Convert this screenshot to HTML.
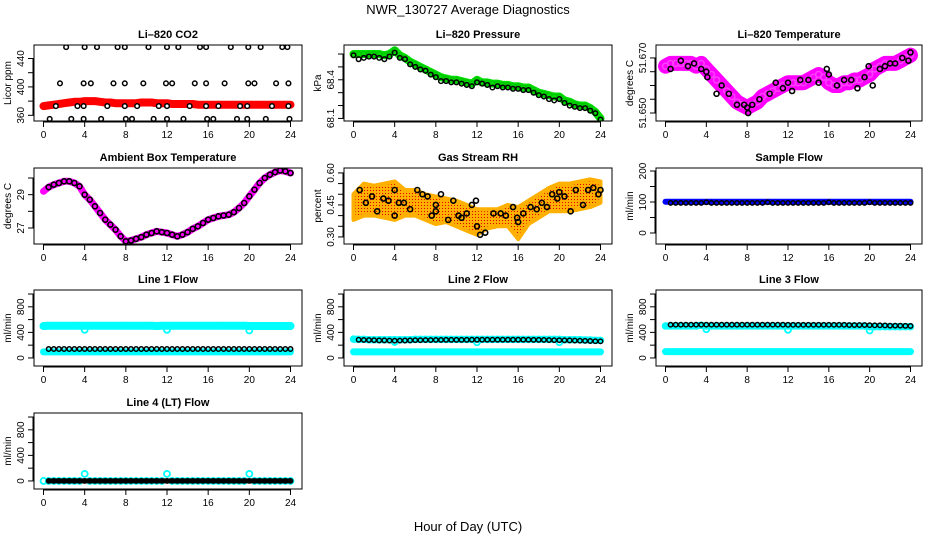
<!DOCTYPE html>
<html><head><meta charset="utf-8">
<style>
html,body{margin:0;padding:0;background:#fff;}
svg{display:block;font-family:"Liberation Sans",sans-serif;}
</style></head>
<body>
<svg id="chart" width="936" height="540" viewBox="0 0 936 540" xmlns="http://www.w3.org/2000/svg">
<text x="468" y="14" text-anchor="middle" font-size="13">NWR_130727  Average Diagnostics</text>
<text x="468" y="531" text-anchor="middle" font-size="13">Hour of Day (UTC)</text>
</svg>
<script>
// ---------- data ----------
const hours = [0,0.5,1,1.5,2,2.5,3,3.5,4,4.5,5,5.5,6,6.5,7,7.5,8,8.5,9,9.5,10,10.5,11,11.5,12,12.5,13,13.5,14,14.5,15,15.5,16,16.5,17,17.5,18,18.5,19,19.5,20,20.5,21,21.5,22,22.5,23,23.5,24];
const xTicks = [0,4,8,12,16,20,24];

const co2Red = [373,374,375,376,377,378,379,379,380,380,380,379,378,378,377,377,377,377,377,378,378,378,377,377,377,376,376,376,376,376,375,375,375,375,375,375,375,375,375,375,375,375,375,375,375,375,375,375,375];
const co2BlackT = [2.2,4.0,5.2,7.2,7.9,10.2,12.0,13.1,15.2,15.8,18.2,19.9,21.1,23.2,23.7, 1.6,3.9,4.6,6.8,7.9,9.7,11.9,12.5,14.7,15.8,17.6,19.9,20.5,22.6,23.8, 1.2,3.3,3.9,6.2,7.9,9.1,11.2,12.0,14.2,15.8,17.0,19.1,19.8,22.2,23.8, 0.6,2.7,3.9,5.6,8.0,8.6,10.7,12.0,13.6,15.9,16.5,18.8,19.8,21.6,23.9];
const co2BlackV = [456,456,456,456,456,456,456,456,456,456,456,456,456,456,456, 405,405,405,405,405,405,405,405,405,405,405,405,405,405,405, 373,373,373,373,373,373,373,373,373,373,373,373,373,373,373, 355,355,355,355,355,355,355,355,355,355,355,355,355,355,355];
const co2Ticks = [360,380,400,420,440];
const co2Labels = ["360","","400","","440"];

const presGreen = [68.60,68.60,68.60,68.60,68.60,68.60,68.59,68.60,68.63,68.59,68.57,68.54,68.52,68.50,68.48,68.46,68.44,68.42,68.41,68.40,68.40,68.39,68.38,68.37,68.40,68.38,68.38,68.37,68.37,68.36,68.36,68.35,68.35,68.34,68.34,68.32,68.30,68.29,68.28,68.27,68.27,68.24,68.23,68.21,68.20,68.20,68.18,68.15,68.10];
const presBlack = [68.59,68.56,68.57,68.58,68.58,68.57,68.56,68.58,68.61,68.57,68.56,68.52,68.50,68.48,68.47,68.44,68.42,68.39,68.39,68.38,68.38,68.37,68.36,68.35,68.38,68.37,68.36,68.34,68.35,68.34,68.34,68.33,68.33,68.32,68.32,68.30,68.28,68.27,68.25,68.24,68.25,68.22,68.20,68.19,68.18,68.18,68.16,68.14,68.09];
const presTicks = [68.1,68.2,68.3,68.4,68.5,68.6];
const presLabels = ["68.1","","","68.4","",""];

const tempPink = [51.667,51.668,51.668,51.668,51.668,51.668,51.667,51.668,51.666,51.664,51.662,51.660,51.658,51.656,51.654,51.653,51.652,51.653,51.654,51.656,51.657,51.658,51.659,51.660,51.661,51.661,51.661,51.661,51.662,51.663,51.664,51.663,51.661,51.660,51.660,51.661,51.661,51.662,51.662,51.663,51.664,51.666,51.667,51.668,51.668,51.668,51.669,51.670,51.671];
const tempBlackT = [0.5,1.5,2.2,2.8,3.5,4.0,4.1,5.0,5.5,6.2,7.0,7.7,8.0,8.1,8.5,9.2,10.2,10.8,11.5,12.0,12.4,13.2,14.0,15.0,15.8,16.0,16.8,17.5,18.2,18.8,19.5,19.9,20.3,21.0,21.5,22.0,22.5,23.2,23.8,24.0];
const tempBlackV = [51.666,51.669,51.667,51.668,51.666,51.665,51.663,51.657,51.660,51.657,51.653,51.653,51.652,51.650,51.653,51.655,51.657,51.661,51.659,51.661,51.658,51.662,51.662,51.661,51.666,51.664,51.660,51.662,51.662,51.659,51.663,51.667,51.660,51.666,51.667,51.668,51.668,51.670,51.669,51.672];
const tempTicks = [51.650,51.655,51.660,51.665,51.670];
const tempLabels = ["51.650","","","","51.670"];

const ambient = [29.2,29.45,29.6,29.7,29.8,29.8,29.7,29.5,29.0,28.7,28.3,27.9,27.5,27.2,26.9,26.5,26.2,26.25,26.35,26.45,26.6,26.7,26.8,26.75,26.7,26.6,26.5,26.6,26.75,26.95,27.1,27.3,27.5,27.6,27.7,27.75,27.8,27.95,28.2,28.5,28.9,29.3,29.7,30.0,30.2,30.35,30.45,30.4,30.3];
const ambTicks = [27,28,29,30];
const ambLabels = ["27","","29",""];

const rhHours = [0,1,2,3,4,5,6,7,8,9,10,11,12,13,14,15,16,17,18,19,20,21,22,23,24];
const rhLow = [0.38,0.40,0.40,0.39,0.38,0.40,0.40,0.38,0.36,0.37,0.35,0.33,0.31,0.34,0.35,0.35,0.29,0.36,0.39,0.42,0.42,0.42,0.43,0.44,0.46];
const rhHigh = [0.50,0.55,0.54,0.55,0.56,0.52,0.52,0.50,0.49,0.48,0.47,0.45,0.43,0.43,0.43,0.45,0.44,0.47,0.50,0.53,0.55,0.55,0.56,0.57,0.56];
const rhBlackT = [0.6,1.2,1.8,2.3,2.9,3.4,4.0,4.0,4.4,4.9,5.5,6.2,6.7,7.2,7.6,8.0,8.0,8.5,9.2,9.7,10.2,10.5,11.0,11.5,11.9,12.0,12.3,12.8,13.6,14.3,14.8,15.5,15.9,16.0,16.5,17.2,17.8,18.3,18.8,19.3,19.8,20.0,20.5,21.1,21.6,22.3,22.8,23.3,23.8,24.0];
const rhBlackV = [0.52,0.46,0.49,0.42,0.48,0.47,0.52,0.40,0.46,0.46,0.43,0.52,0.50,0.49,0.40,0.45,0.42,0.50,0.38,0.47,0.40,0.39,0.41,0.45,0.47,0.35,0.31,0.32,0.41,0.41,0.40,0.44,0.39,0.37,0.41,0.44,0.43,0.46,0.44,0.50,0.48,0.51,0.49,0.42,0.52,0.45,0.52,0.53,0.50,0.52];
const rhTicks = [0.30,0.35,0.40,0.45,0.50,0.55,0.60];
const rhLabels = ["0.30","","","0.45","","","0.60"];

const sampleBlue = [101,101,101,101,101,101,101,101,101,101,101,101,101,101,101,101,101,101,101,101,101,101,101,101,101,101,101,101,101,101,101,101,101,101,101,101,101,101,101,101,101,101,101,101,101,101,101,101,101];
const sampleBlack = [98,97,97,97,97,97,97,97,99,97,97,97,97,97,97,97,97,97,97,97,99,97,97,97,97,97,97,97,97,97,97,97,99,97,97,97,97,97,97,97,99,97,97,97,97,97,97,97,97];
const sampleTicks = [0,50,100,150,200];
const sampleLabels = ["0","","100","","200"];

const flowTicks = [0,200,400,600,800,1000];
const flowLabels = ["0","","400","","800",""];
const dipT = [4,12,20];

const l1CyanHigh = [500,505,505,505,505,505,505,505,505,505,505,505,505,505,505,505,505,505,505,505,505,505,500,505,505,505,505,505,505,505,505,505,505,505,505,505,505,505,505,505,500,500,500,500,500,500,500,500,500];
const l1Dip = [440,440,430];
const l1CyanLow = [95,95,95,95,95,95,95,95,95,95,95,95,95,95,95,95,95,95,95,95,95,95,95,95,95,95,95,95,95,95,95,95,95,95,95,95,95,95,95,95,95,95,95,95,95,95,95,95,95];
const l1Black = [140,140,140,140,140,140,140,140,140,140,140,140,140,140,140,140,140,140,140,140,140,140,140,140,140,140,140,140,140,140,140,140,140,140,140,140,140,140,140,140,140,140,140,140,140,140,140,140,140];

const l2CyanHigh = [295,290,290,285,285,285,285,285,285,285,285,285,290,290,290,290,290,290,290,290,290,290,290,290,290,290,290,290,290,290,290,290,290,290,290,290,290,290,290,290,290,285,285,285,285,280,280,275,275];
const l2Dip = [250,245,245];
const l2CyanLow = [95,95,95,95,95,95,95,95,95,95,95,95,95,95,95,95,95,95,95,95,95,95,95,95,95,95,95,95,95,95,95,95,95,95,95,95,95,95,95,95,95,95,95,95,95,95,95,95,95];
const l2Black = [285,285,282,280,278,275,275,272,270,272,273,275,278,278,280,280,282,282,283,283,283,283,283,285,285,285,285,285,285,285,285,285,285,285,285,283,283,282,280,278,278,276,275,272,270,268,265,262,260];

const l3CyanHigh = [500,500,500,500,500,500,500,510,500,500,500,500,500,500,500,500,500,500,500,500,500,500,500,500,500,500,500,500,500,500,500,500,500,500,500,500,500,500,500,500,490,490,490,490,490,490,490,490,490];
const l3Dip = [450,440,430];
const l3CyanLow = [100,100,100,100,100,100,100,100,100,100,100,100,100,100,100,100,100,100,100,100,100,100,100,100,100,100,100,100,100,100,100,100,100,100,100,100,100,100,100,100,100,100,100,100,100,100,100,100,100];
const l3Black = [520,520,520,520,520,520,520,520,520,520,520,520,520,520,520,520,520,520,520,520,520,520,520,520,518,518,518,518,518,518,518,518,518,518,518,518,515,515,515,515,512,510,510,508,505,505,505,502,500];

const l4Cyan = [0,0,0,0,0,0,0,0,110,0,0,0,0,0,0,0,0,0,0,0,0,0,0,0,110,0,0,0,0,0,0,0,0,0,0,0,0,0,0,0,110,0,0,0,0,0,0,0,0];
const l4Black = [null,0,0,0,0,0,0,0,0,0,0,0,0,0,0,0,0,0,0,0,0,0,0,0,0,0,0,0,0,0,0,0,0,0,0,0,0,0,0,0,0,0,0,0,0,0,0,0,0];

// ---------- layout ----------
const NS = "http://www.w3.org/2000/svg";
const svg = document.getElementById("chart");
const colX = [0, 310, 622];
const rowY = [45, 168, 290, 413];
const BOXL = 34, BOXW = 268, BOXH = 76;

function mk(tag, attrs, parent) {
  const e = document.createElementNS(NS, tag);
  for (const k in attrs) e.setAttribute(k, attrs[k]);
  (parent || svg).appendChild(e);
  return e;
}

function panel(name, col, row, title, ylab, ymin, ymax, ticks, labels) {
  const L = colX[col] + BOXL, T = rowY[row], W = (col === 2 ? 266 : BOXW), H = BOXH;
  const g = mk("g", {});
  
  
  const sx = h => L + 9.5 + h * (W - 21) / 24;
  const sy = v => T + H - (v - ymin) / (ymax - ymin) * H;
  const t = mk("text", {x: L + W / 2, y: T - 7, "text-anchor": "middle", "font-size": 11, "font-weight": "bold"}, g);
  t.textContent = title;
  
  
  const yl = mk("text", {x: 0, y: 0, "text-anchor": "middle", "font-size": 10, transform: `translate(${L - 23},${T + H / 2}) rotate(-90)`}, g);
  yl.textContent = ylab;
  
  
  const xa = mk("line", {x1: sx(xTicks[0]), x2: sx(xTicks[xTicks.length - 1]), y1: T + H + 1, y2: T + H + 1, stroke: "#000"}, g);
  
  
  xTicks.forEach(h => {
    const tk = mk("line", {x1: sx(h), x2: sx(h), y1: T + H, y2: T + H + 6, stroke: "#000"}, g);
    
    
    const lb = mk("text", {x: sx(h), y: T + H + 17, "text-anchor": "middle", "font-size": 10}, g);
    lb.textContent = String(h);
    
    
  });
  const ya = mk("line", {x1: L - 1, x2: L - 1, y1: sy(ticks[0]), y2: sy(ticks[ticks.length - 1]), stroke: "#000"}, g);
  
  
  ticks.forEach((v, i) => {
    const tk = mk("line", {x1: L - 6, x2: L, y1: sy(v), y2: sy(v), stroke: "#000"}, g);
    
    
    if (labels[i]) {
      const lb = mk("text", {x: 0, y: 0, "text-anchor": "middle", "font-size": 10, transform: `translate(${L - 10},${sy(v)}) rotate(-90)`}, g);
      lb.textContent = labels[i];
      
      
    }
  });
  const clip = mk("clipPath", {id: "clip-" + name}, g);
  mk("rect", {x: L, y: T, width: W, height: H}, clip);
  const plot = mk("g", {"clip-path": `url(#clip-${name})`}, g);
  const box = mk("rect", {x: L, y: T, width: W, height: H, fill: "none", stroke: "#000"}, g);
  
  
  return {g: plot, sx, sy};
}

function band(p, name, xs, ys, color, w) {
  const pts = [];
  xs.forEach((x, i) => { if (ys[i] !== null) pts.push(p.sx(x).toFixed(1) + "," + p.sy(ys[i]).toFixed(1)); });
  const pl = mk("polyline", {points: pts.join(" "), fill: "none", stroke: color, "stroke-width": w, "stroke-linejoin": "round", "stroke-linecap": "round"}, p.g);
  
  
}

function dots(p, name, xs, ys, color, r, sw, fill) {
  xs.forEach((x, i) => {
    if (ys[i] === null) return;
    const c = mk("circle", {cx: p.sx(x), cy: p.sy(ys[i]), r: r, fill: fill || "none", stroke: color, "stroke-width": sw}, p.g);
    
    
  });
}

let p = panel("co2", 0, 0, "Li\u2013820 CO2", "Licor ppm", 352, 459, co2Ticks, co2Labels);
band(p, "co2-red-series", hours, co2Red, "#f00", 8);
dots(p, "co2-red-point", hours, co2Red, "#f00", 2.5, 1.5);
dots(p, "co2-black-point", co2BlackT, co2BlackV, "#000", 2.3, 1.5, "#fff");

p = panel("pressure", 1, 0, "Li\u2013820 Pressure", "kPa", 68.08, 68.67, presTicks, presLabels);
band(p, "pressure-green-series", hours, presGreen, "#00e000", 8);
dots(p, "pressure-green-point", hours, presGreen, "#00c000", 2.5, 1.2);
dots(p, "pressure-black-point", hours, presBlack, "#000", 2.3, 1.5);

p = panel("li820-temp", 2, 0, "Li\u2013820 Temperature", "degrees C", 51.6471, 51.6747, tempTicks, tempLabels);
band(p, "li820-temp-pink-series", hours, tempPink, "#ff00ff", 15);
dots(p, "li820-temp-pink-point", hours, tempPink, "#ff40ff", 3, 1.5);
dots(p, "li820-temp-black-point", tempBlackT, tempBlackV, "#000", 2.5, 1.6);

p = panel("ambient", 0, 1, "Ambient Box Temperature", "degrees C", 26.04, 30.6, ambTicks, ambLabels);
band(p, "ambient-pink-series", hours, ambient, "#ff00ff", 7);
dots(p, "ambient-black-point", hours.slice(1), ambient.slice(1), "#000", 2.5, 1.6);

p = panel("rh", 1, 1, "Gas Stream RH", "percent", 0.267, 0.623, rhTicks, rhLabels);
{
  const up = rhHours.map((h, i) => p.sx(h).toFixed(1) + "," + p.sy(rhHigh[i]).toFixed(1));
  const dn = rhHours.map((h, i) => p.sx(h).toFixed(1) + "," + p.sy(rhLow[i]).toFixed(1)).reverse();
  const defs = mk("defs", {});
  const pat = mk("pattern", {id: "rhpat", width: 3, height: 3, patternUnits: "userSpaceOnUse"}, defs);
  mk("rect", {width: 3, height: 3, fill: "#ffb000"}, pat);
  mk("rect", {x: 1, y: 1, width: 1, height: 1, fill: "#e00000"}, pat);
  const poly = mk("polygon", {points: up.concat(dn).join(" "), fill: "url(#rhpat)", stroke: "#ffb000", "stroke-width": 4, "stroke-linejoin": "round"}, p.g);
  
  
}
dots(p, "rh-black-point", rhBlackT, rhBlackV, "#000", 2.5, 1.6);

p = panel("sample-flow", 2, 1, "Sample Flow", "ml/min", -35.5, 209.7, sampleTicks, sampleLabels);
band(p, "sample-flow-blue-series", hours, sampleBlue, "#0000ff", 6);
dots(p, "sample-flow-black-point", hours.slice(1), sampleBlack.slice(1), "#000", 2.2, 1.5);

p = panel("line1-flow", 0, 2, "Line 1 Flow", "ml/min", -126, 1063, flowTicks, flowLabels);
band(p, "line1-cyan-high", hours, l1CyanHigh, "#00ffff", 8);
dots(p, "line1-cyan-high-point", hours, l1CyanHigh, "#00ffff", 3, 1.5);
dots(p, "line1-cyan-dip-point", dipT, l1Dip, "#00ffff", 3, 1.8);
band(p, "line1-cyan-low", hours, l1CyanLow, "#00ffff", 7);
dots(p, "line1-black-point", hours.slice(1), l1Black.slice(1), "#000", 2.2, 1.5);

p = panel("line2-flow", 1, 2, "Line 2 Flow", "ml/min", -126, 1063, flowTicks, flowLabels);
band(p, "line2-cyan-high", hours, l2CyanHigh, "#00ffff", 7);
dots(p, "line2-cyan-high-point", hours, l2CyanHigh, "#00ffff", 3, 1.5);
dots(p, "line2-cyan-dip-point", dipT, l2Dip, "#00ffff", 3, 1.8);
band(p, "line2-cyan-low", hours, l2CyanLow, "#00ffff", 7);
dots(p, "line2-black-point", hours.slice(1), l2Black.slice(1), "#000", 2.2, 1.5);

p = panel("line3-flow", 2, 2, "Line 3 Flow", "ml/min", -126, 1063, flowTicks, flowLabels);
band(p, "line3-cyan-high", hours, l3CyanHigh, "#00ffff", 7);
dots(p, "line3-cyan-high-point", hours, l3CyanHigh, "#00ffff", 3, 1.5);
dots(p, "line3-cyan-dip-point", dipT, l3Dip, "#00ffff", 3, 1.8);
band(p, "line3-cyan-low", hours, l3CyanLow, "#00ffff", 7);
dots(p, "line3-black-point", hours.slice(1), l3Black.slice(1), "#000", 2.2, 1.5);

p = panel("line4-flow", 0, 3, "Line 4 (LT) Flow", "ml/min", -126, 1063, flowTicks, flowLabels);
dots(p, "line4-cyan-point", hours, l4Cyan, "#00ffff", 3, 1.8);
band(p, "line4-black-series", hours.slice(1), l4Black.slice(1), "#000", 5);
dots(p, "line4-black-point", hours, l4Black, "#000", 2.2, 1.5);
</script>
</body></html>
